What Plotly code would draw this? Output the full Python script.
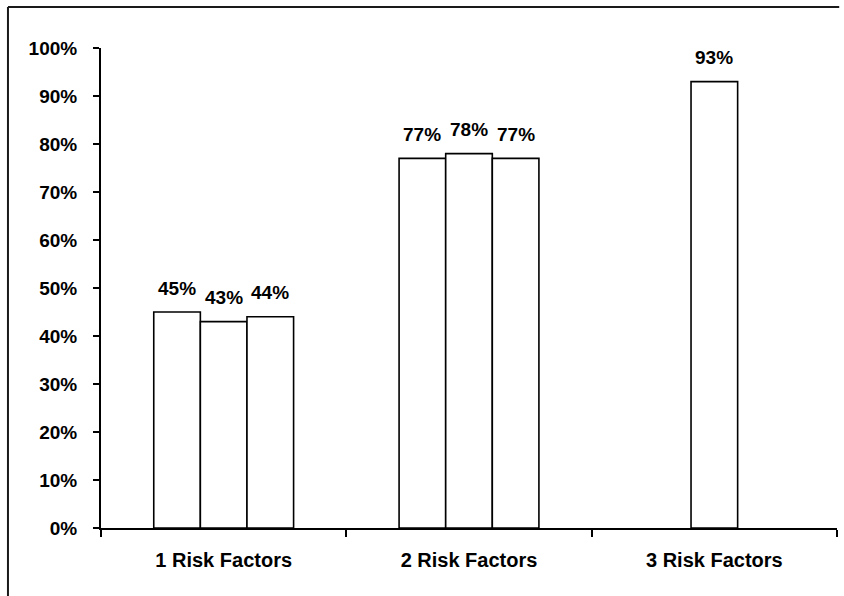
import plotly.graph_objects as go

# Share of patients by number of risk factors (three sub-groups per category)
categories = ["1 Risk Factors", "2 Risk Factors", "3 Risk Factors"]
group_a = [0.45, 0.77, None]
group_b = [0.43, 0.78, 0.93]
group_c = [0.44, 0.77, None]
y_ticks = [i / 10 for i in range(11)]

series = [group_a, group_b, group_c]
bar_w = 0.19
font_family = "Liberation Sans, Arial, sans-serif"

fig = go.Figure()
annotations = []
for i, vals in enumerate(series):
    offset = (i - 1.5) * bar_w
    fig.add_trace(go.Bar(
        x=categories,
        y=vals,
        width=bar_w,
        offset=offset,
        marker=dict(color="white", line=dict(color="black", width=1.6)),
        showlegend=False,
        hoverinfo="skip",
    ))
    for ci, v in enumerate(vals):
        if v is None:
            continue
        annotations.append(dict(
            x=ci + offset + bar_w / 2, y=v, xref="x", yref="y",
            text=f"{round(v * 100)}%", showarrow=False,
            yanchor="middle", yshift=24,
            font=dict(family=font_family, size=19, color="black", weight="bold"),
        ))

# frame lines along the top and left edges of the figure
shapes = [
    dict(type="line", xref="paper", yref="paper", x0=-0.1264, x1=1.003,
         y0=1.0854, y1=1.0854, line=dict(color="#1a1a1a", width=2)),
    dict(type="line", xref="paper", yref="paper", x0=-0.1264, x1=-0.1264,
         y0=-0.1417, y1=1.0854, line=dict(color="#1a1a1a", width=2)),
]

fig.update_layout(
    width=844, height=596,
    margin=dict(l=101, r=7, t=48, b=68),
    paper_bgcolor="white", plot_bgcolor="white",
    barmode="overlay",
    annotations=annotations,
    shapes=shapes,
    xaxis=dict(
        type="category", range=[-0.5, 2.5],
        tickson="boundaries", ticks="outside", ticklen=7, tickwidth=1.5,
        tickcolor="black", showline=True, linecolor="black", linewidth=2,
        showgrid=False, zeroline=False, ticklabelstandoff=13,
        tickfont=dict(family=font_family, size=20, color="black", weight="bold"),
    ),
    yaxis=dict(
        range=[0, 1], tickvals=y_ticks, tickformat=".0%",
        ticks="outside", ticklen=6, tickwidth=1.5, tickcolor="black",
        showline=True, linecolor="black", linewidth=2,
        showgrid=False, zeroline=False, ticklabelstandoff=12,
        tickfont=dict(family=font_family, size=19, color="black", weight="bold"),
    ),
)

fig.write_html("out.html", config={"displayModeBar": False})
